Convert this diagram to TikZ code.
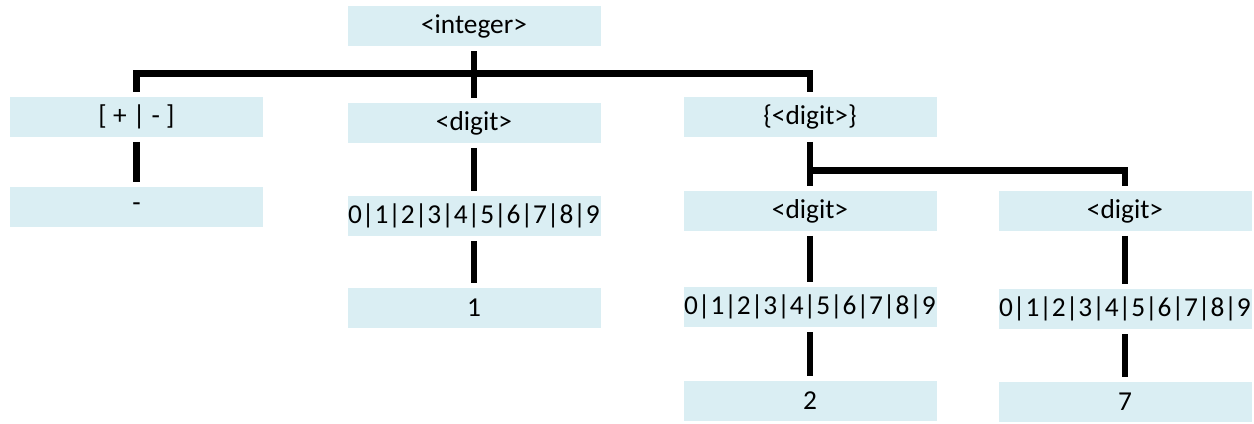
\documentclass[tikz,border=0pt]{standalone}
\usepackage{fontspec}
\setmainfont{Carlito}
\definecolor{boxblue}{HTML}{DAEEF3}
\begin{document}
\begin{tikzpicture}[x=0.75pt,y=-0.75pt,
  term/.style={rectangle, fill=boxblue, minimum width=189.75pt, minimum height=30pt, inner sep=0pt, outer sep=3.75pt, font=\fontsize{20.5}{23}\selectfont},
  choice/.style={term, font=\fontsize{20.5}{23}\selectfont},
  link/.style={draw=black, line width=4.9pt}]
\clip (0,0) rectangle (1254,424);
\node [term] (int) at (474,26.5) {<integer>};
\node [term] (sign) at (136.5,117) {[ + | - ]};
\node [term] (dig1) at (474,123) {<digit>};
\node [term] (rep) at (810,117) {\{<digit>\}};
\node [term] (minus) at (136.5,207) {-};
\node [choice] (alt1) at (474,216) {0|1|2|3|4|5|6|7|8|9};
\node [term] (one) at (474,308) {1};
\node [term] (dig2) at (810,211) {<digit>};
\node [term] (dig3) at (1125,211) {<digit>};
\node [choice] (alt2) at (810,307) {0|1|2|3|4|5|6|7|8|9};
\node [choice] (alt3) at (1125,309) {0|1|2|3|4|5|6|7|8|9};
\node [term] (two) at (810,401) {2};
\node [term] (seven) at (1125,402) {7};
\coordinate (bar) at (474,73.5);
\coordinate (fork) at (810,170.5);
\draw [link] (int) -- (dig1);
\draw [link] (sign.north) |- (bar) -| (rep.north);
\draw [link] (sign) -- (minus);
\draw [link] (dig1) -- (alt1);
\draw [link] (alt1) -- (one);
\draw [link] (rep) -- (dig2);
\draw [link] (fork) -| (dig3.north);
\draw [link] (dig2) -- (alt2);
\draw [link] (alt2) -- (two);
\draw [link] (dig3) -- (alt3);
\draw [link] (alt3) -- (seven);
\end{tikzpicture}
\end{document}
